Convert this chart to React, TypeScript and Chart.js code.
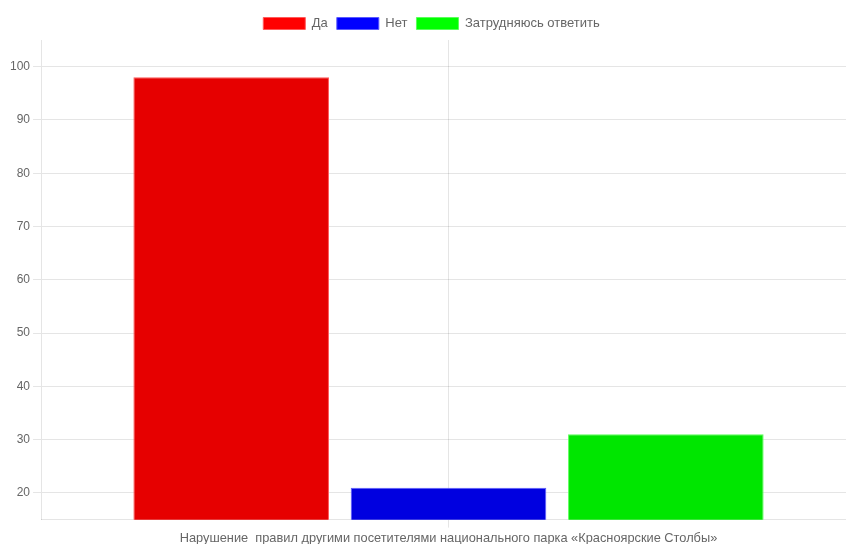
import React, { useEffect, useRef } from "react";
import { Chart, registerables } from "chart.js";

Chart.register(...registerables);

const categories = ["Нарушение  правил другими посетителями национального парка «Красноярские Столбы»"];
const seriesNames = ["Да", "Нет", "Затрудняюсь ответить"];
const seriesValues = [[98], [21], [31]];
const barColors = ["#e60000", "#0000e0", "#00e600"];
const borderColors = ["#ff5a5a", "#5a5aff", "#5aff5a"];
const legendColors = ["#ff0000", "#0000ff", "#00ff00"];
const yTicks = [20, 30, 40, 50, 60, 70, 80, 90, 100];

if (typeof document !== "undefined") {
  document.body.style.margin = "0";
  document.documentElement.style.overflow = "hidden";
}

export default function App() {
  const ref = useRef<HTMLCanvasElement | null>(null);
  useEffect(() => {
    if (!ref.current) return;
    Chart.defaults.font.family = "'Liberation Sans', Arial, sans-serif";
    Chart.defaults.font.size = 12;
    Chart.defaults.color = "#666";
    const chart = new Chart(ref.current, {
      type: "bar",
      data: {
        labels: categories,
        datasets: seriesNames.map((name, i) => ({
          label: name,
          data: seriesValues[i],
          backgroundColor: barColors[i],
          borderColor: borderColors[i],
          borderWidth: 1,
        })),
      },
      options: {
        responsive: false,
        animation: false,
        plugins: {
          tooltip: { enabled: false },
          legend: {
            position: "top",
            labels: {
              boxWidth: 42,
              boxHeight: 12,
              padding: 9,
              font: { size: 13 },
              generateLabels: (c: any) =>
                c.data.datasets.map((d: any, i: number) => ({
                  text: d.label,
                  fillStyle: legendColors[i],
                  strokeStyle: borderColors[i],
                  lineWidth: 1,
                  hidden: false,
                  datasetIndex: i,
                  fontColor: "#666",
                })),
            },
          },
        },
        scales: {
          x: {
            offset: true,
            grid: { offset: false },
            ticks: { font: { size: 12.8 } },
          },
          y: {
            min: 15,
            max: 105,
            ticks: { font: { size: 12 } },
            afterBuildTicks: (axis: any) => {
              axis.ticks = yTicks.map((v) => ({ value: v }));
            },
          },
        },
      },
    });
    return () => chart.destroy();
  }, []);
  return (
    <div style={{ width: 846, height: 544, overflow: "hidden", position: "relative" }}>
      <canvas
        ref={ref}
        width={849}
        height={541}
        style={{ display: "block", position: "absolute", left: 7, top: 8 }}
      />
    </div>
  );
}
